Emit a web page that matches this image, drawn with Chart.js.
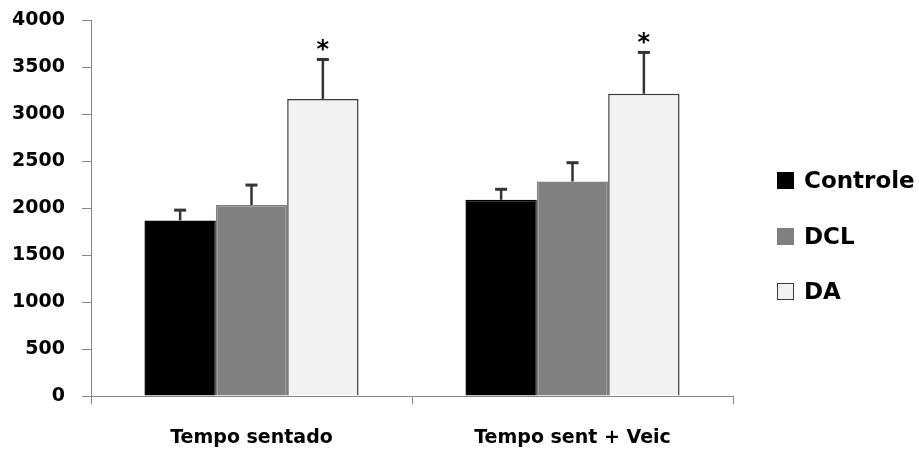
<!DOCTYPE html>
<html>
<head>
<meta charset="utf-8">
<script src="https://cdn.jsdelivr.net/npm/chart.js@4"></script>
<style>
  html, body { margin: 0; padding: 0; background: #fff; }
  #wrap { position: relative; width: 919px; height: 453px; }
  #legend { position: absolute; left: 777px; top: 153px; font-family: "DejaVu Sans", sans-serif; font-weight: bold; font-size: 23px; color: #000; }
  .item { display: flex; align-items: center; height: 55.5px; line-height: 1; }
  .box { width: 17px; height: 17px; box-sizing: border-box; margin-right: 10px; }
</style>
</head>
<body>
<div id="wrap">
  <canvas id="chart" width="919" height="453"></canvas>
  <div id="legend"></div>
</div>
<script>
const categories = ['Tempo sentado', 'Tempo sent + Veic'];
const seriesNames = ['Controle', 'DCL', 'DA'];
const controle = [1870, 2090];
const dcl = [2035, 2285];
const da = [3165, 3220];
const controleErr = [110, 112];
const dclErr = [212, 200];
const daErr = [420, 440];
const daMarks = ['*', '*'];
const yTicks = [0, 500, 1000, 1500, 2000, 2500, 3000, 3500, 4000];

const fills = ['#000000', '#808080', '#f2f2f2'];
const borders = ['#000000', '#808080', '#3a3a3a'];
const values = [controle, dcl, da];
const errors = [controleErr, dclErr, daErr];
const marks = [[], [], daMarks];

const errorBars = {
  id: 'errorBars',
  afterDatasetsDraw(chart) {
    const ctx = chart.ctx;
    const y = chart.scales.y;
    ctx.save();
    chart.data.datasets.forEach((ds, i) => {
      const meta = chart.getDatasetMeta(i);
      meta.data.forEach((bar, j) => {
        const top = y.getPixelForValue(ds.data[j] + errors[i][j]);
        ctx.strokeStyle = '#333333';
        ctx.lineWidth = 2.5;
        ctx.beginPath();
        ctx.moveTo(bar.x, bar.y);
        ctx.lineTo(bar.x, top);
        ctx.stroke();
        ctx.lineWidth = 3;
        ctx.beginPath();
        ctx.moveTo(bar.x - 6, top);
        ctx.lineTo(bar.x + 6, top);
        ctx.stroke();
        const m = marks[i][j];
        if (m) {
          ctx.fillStyle = '#000';
          ctx.font = 'bold 24px "DejaVu Sans"';
          ctx.textAlign = 'center';
          ctx.textBaseline = 'alphabetic';
          ctx.fillText(m, bar.x, top - 15 + 0.52 * 24);
        }
      });
    });
    ctx.restore();
  }
};

new Chart(document.getElementById('chart'), {
  type: 'bar',
  data: {
    labels: categories,
    datasets: seriesNames.map((name, i) => ({
      label: name,
      data: values[i],
      backgroundColor: fills[i],
      borderColor: borders[i],
      borderWidth: 1.5,
      categoryPercentage: 0.667,
      barPercentage: 1
    }))
  },
  options: {
    responsive: false,
    animation: false,
    devicePixelRatio: 1,
    layout: { padding: { top: 20.5, right: 186, left: 0, bottom: 0 } },
    plugins: { legend: { display: false }, tooltip: { enabled: false } },
    scales: {
      x: {
        afterFit(s) { s.height = 57; },
        grid: { display: true, drawOnChartArea: false, tickLength: 8, color: '#868686', offset: true },
        border: { color: '#868686', width: 1 },
        ticks: { color: '#000', padding: 23, font: { family: 'DejaVu Sans', weight: 'bold', size: 19 } }
      },
      y: {
        min: 0,
        max: 4000,
        afterFit(s) { s.width = 91; s.paddingTop = 0; s.paddingBottom = 0; },
        afterBuildTicks(s) { s.ticks = yTicks.map(v => ({ value: v })); },
        grid: { display: true, drawOnChartArea: false, tickLength: 9, color: '#868686' },
        border: { color: '#868686', width: 1 },
        ticks: {
          color: '#000',
          padding: 17,
          font: { family: 'DejaVu Sans', weight: 'bold', size: 19 },
          callback: v => String(v)
        }
      }
    }
  },
  plugins: [errorBars]
});

const legend = document.getElementById('legend');
seriesNames.forEach((name, i) => {
  const row = document.createElement('div');
  row.className = 'item';
  const box = document.createElement('span');
  box.className = 'box';
  box.style.background = fills[i];
  box.style.border = '1px solid ' + borders[i];
  const label = document.createElement('span');
  label.textContent = name;
  row.appendChild(box);
  row.appendChild(label);
  legend.appendChild(row);
});
</script>
</body>
</html>
